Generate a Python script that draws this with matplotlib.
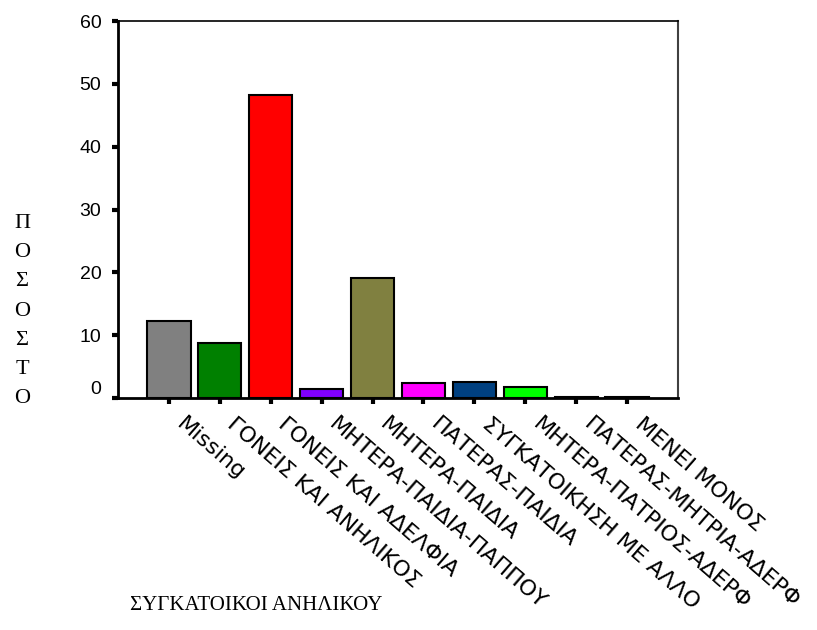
import matplotlib.pyplot as plt
import matplotlib.transforms as mtransforms
import numpy as np

categories = ['Missing', 'ΓΟΝΕΙΣ ΚΑΙ ΑΝΗΛΙΚΟΣ', 'ΓΟΝΕΙΣ ΚΑΙ ΑΔΕΛΦΙΑ', 'ΜΗΤΕΡΑ-ΠΑΙΔΙΑ-ΠΑΠΠΟΥ',
              'ΜΗΤΕΡΑ-ΠΑΙΔΙΑ', 'ΠΑΤΕΡΑΣ-ΠΑΙΔΙΑ', 'ΣΥΓΚΑΤΟΙΚΗΣΗ ΜΕ ΑΛΛΟ',
              'ΜΗΤΕΡΑ-ΠΑΤΡΙΟΣ-ΑΔΕΡΦ', 'ΠΑΤΕΡΑΣ-ΜΗΤΡΙΑ-ΑΔΕΡΦ', 'ΜΕΝΕΙ ΜΟΝΟΣ']
percent = [12.3, 8.8, 48.2, 1.5, 19.1, 2.4, 2.5, 1.8, 0.2, 0.2]
colors = ['#808080', '#008000', '#ff0000', '#8000ff', '#808040',
          '#ff00ff', '#004080', '#00ff00', '#000000', '#000000']
yticks = [0, 10, 20, 30, 40, 50, 60]

fig = plt.figure(figsize=(8.17, 6.3), dpi=100)
ax = fig.add_axes([118/817, 1-398/630, 560/817, 377/630])

x = np.arange(len(categories))
ax.bar(x, percent, width=0.85, color=colors, edgecolor='black', linewidth=1.5, zorder=3)

ax.set_xlim(-1, len(categories))
ax.set_ylim(0, 60)
ax.set_yticks(yticks)
ax.set_xticks(x)
ax.set_xticklabels([])

# category labels, set a little right of and below each tick like the original
offset = mtransforms.ScaledTranslation(0.17, -0.16, fig.dpi_scale_trans)
for xi, name in zip(x, categories):
    ax.text(xi, 0, name, transform=ax.get_xaxis_transform() + offset,
            rotation=-41, ha='left', va='top', rotation_mode='anchor',
            fontsize=16, family='DejaVu Sans', clip_on=False)

for lab in ax.get_yticklabels():
    lab.set_family('Liberation Sans')
    lab.set_fontsize(14)
ax.get_yticklabels()[0].set_va('bottom')

ax.tick_params(axis='both', direction='out', length=4, width=3, colors='black')
ax.tick_params(axis='y', pad=8)

ax.spines['left'].set_linewidth(2)
ax.spines['bottom'].set_linewidth(2)
ax.spines['top'].set_linewidth(1.2)
ax.spines['right'].set_linewidth(1.5)
ax.spines['right'].set_color('#404040')

fig.text(22/817, 1-311/630, '\n'.join('ΠΟΣΟΣΤΟ'), family='Liberation Serif',
         fontsize=16, ha='center', va='center', linespacing=1.72)
fig.text(130/817, 1-605/630, 'ΣΥΓΚΑΤΟΙΚΟΙ ΑΝΗΛΙΚΟΥ', family='Liberation Serif',
         fontsize=15, ha='left', va='center')

plt.savefig('out.png', dpi=100)
